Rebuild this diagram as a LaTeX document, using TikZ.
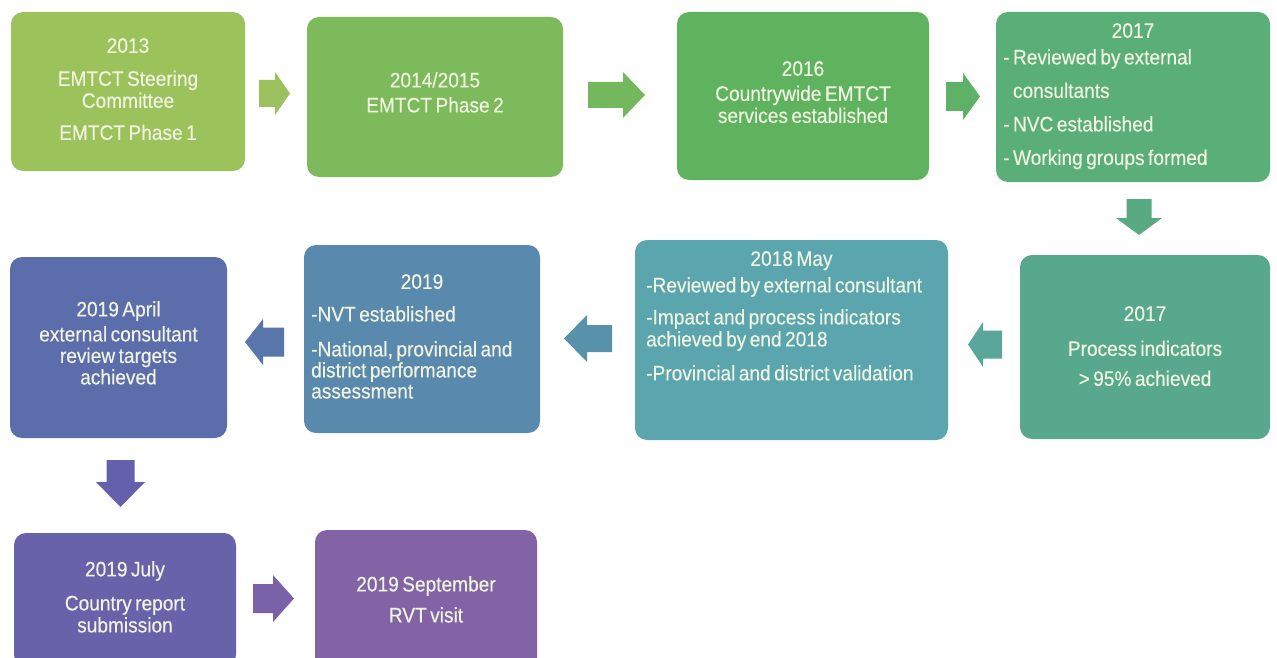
\documentclass[tikz,border=0pt]{standalone}
\usepackage{fontspec}
\setmainfont{Liberation Sans}[FakeStretch=0.91,WordSpace=0.65,FakeBold=0.4]
\definecolor{txt}{HTML}{EFF3E0}
\definecolor{c1}{HTML}{9CC25C}\definecolor{a1}{HTML}{9BC15E}
\definecolor{c2}{HTML}{7CBA5B}\definecolor{a2}{HTML}{74B85D}
\definecolor{c3}{HTML}{5FB35F}\definecolor{a3}{HTML}{5DB267}
\definecolor{c4}{HTML}{5AAE77}\definecolor{a4}{HTML}{58AA82}
\definecolor{c5}{HTML}{58A88E}\definecolor{a5}{HTML}{59A79B}
\definecolor{c6}{HTML}{5BA6AE}\definecolor{a6}{HTML}{5891AA}
\definecolor{c7}{HTML}{5A89AE}\definecolor{a7}{HTML}{5876AC}
\definecolor{c8}{HTML}{5C6DAC}\definecolor{a8}{HTML}{6460AC}
\definecolor{c9}{HTML}{6862AA}\definecolor{a9}{HTML}{7A62A8}
\definecolor{c10}{HTML}{8264A6}
\newcommand\fs{\fontsize{21}{22}\selectfont}
% block arrow: cx, cy, rotation, colour, length, width, shaft, head
\newcommand\barrow[8]{%
  \fill[#4,shift={(#1,#2)},rotate=#3]
    (-#5/2,-#7/2) -- (#5/2-#8,-#7/2) -- (#5/2-#8,-#6/2) -- (#5/2,0)
    -- (#5/2-#8,#6/2) -- (#5/2-#8,#7/2) -- (-#5/2,#7/2) -- cycle;}
\tikzset{
  box/.style={rounded corners=12pt, inner sep=0pt, draw=none},
  ttl/.style={text=txt, font=\fs, align=center, inner sep=0pt, anchor=north},
  lst/.style={text=txt, font=\fs, align=left, inner sep=0pt, anchor=north west}
}
\begin{document}
\begin{tikzpicture}[x=1pt,y=-1pt]
\clip (0,0) rectangle (1277,658);
\fill[white] (0,0) rectangle (1277,658);

% boxes
\node[box, fill=c1, minimum width=234pt, minimum height=159pt] (b1) at (128,91.5) {};
\node[box, fill=c2, minimum width=256pt, minimum height=160pt] (b2) at (435,97) {};
\node[box, fill=c3, minimum width=252pt, minimum height=168pt] (b3) at (803,96) {};
\node[box, fill=c4, minimum width=274pt, minimum height=170pt] (b4) at (1133,97) {};
\node[box, fill=c5, minimum width=250pt, minimum height=184pt] (b5) at (1145,347) {};
\node[box, fill=c6, minimum width=313pt, minimum height=200pt] (b6) at (791.5,340) {};
\node[box, fill=c7, minimum width=236pt, minimum height=188pt] (b7) at (422,339) {};
\node[box, fill=c8, minimum width=217pt, minimum height=181pt] (b8) at (118.5,347.5) {};
\node[box, fill=c9, minimum width=222pt, minimum height=134pt] (b9) at (125,600) {};
\node[box, fill=c10, minimum width=222pt, minimum height=140pt] (b10) at (426,600) {};

% texts
\node[ttl] (t1) at (b1.center |- 0,38) {2013\\[11pt]EMTCT Steering\\Committee\\[10pt]EMTCT Phase 1};
\node[ttl] (t2) at (b2.center |- 0,72) {2014/2015\\[3pt]EMTCT Phase 2};
\node[ttl] (t3) at (b3.center |- 0,61) {2016\\[3pt]Countrywide EMTCT\\services established};
\node[ttl] (t4) at (b4.center |- 0,23) {2017};
\node[lst, font=\fontsize{21}{33.5}\selectfont] (l4) at (1003,49)
  {- Reviewed by external\\\hphantom{- }consultants\\- NVC established\\- Working groups formed};
\node[ttl] (t5) at (b5.center |- 0,306) {2017\\[13pt]Process indicators\\[8pt]> 95\% achieved};
\node[ttl] (t6) at (b6.center |- 0,251) {2018 May};
\node[lst] (l6) at (646,277)
  {-Reviewed by external consultant\\[10pt]-Impact and process indicators\\achieved by end 2018\\[12pt]-Provincial and district validation};
\node[ttl] (t7) at (b7.center |- 0,274) {2019};
\node[lst, font=\fontsize{21}{21}\selectfont] (l7) at (311,306)
  {-NVT established\\[14pt]-National, provincial and\\district performance\\assessment};
\node[ttl, font=\fontsize{21}{21.5}\selectfont] (t8) at (b8.center |- 0,301) {2019 April\\[3.5pt]external consultant\\review targets\\achieved};
\node[ttl] (t9) at (b9.center |- 0,561) {2019 July\\[12pt]Country report\\submission};
\node[ttl] (t10) at (b10.center |- 0,576) {2019 September\\[9pt]RVT visit};

% block arrows
\barrow{274.5}{93.5}{0}{a1}{31}{43}{27}{15}
\barrow{616.5}{95}{0}{a2}{57}{46}{26}{22}
\barrow{963}{96.5}{0}{a3}{34}{47}{29}{17}
\barrow{1139}{217}{-90}{a4}{36}{46}{25}{17}
\barrow{985}{344.5}{180}{a5}{34}{45}{28}{15}
\barrow{588}{338.5}{180}{a6}{48}{47}{27}{23}
\barrow{264.5}{342}{180}{a7}{39}{46}{29}{18}
\barrow{120.5}{483.5}{-90}{a8}{47}{49}{28}{25}
\barrow{273.5}{598.5}{0}{a9}{41}{47}{29}{21}
\end{tikzpicture}
\end{document}
